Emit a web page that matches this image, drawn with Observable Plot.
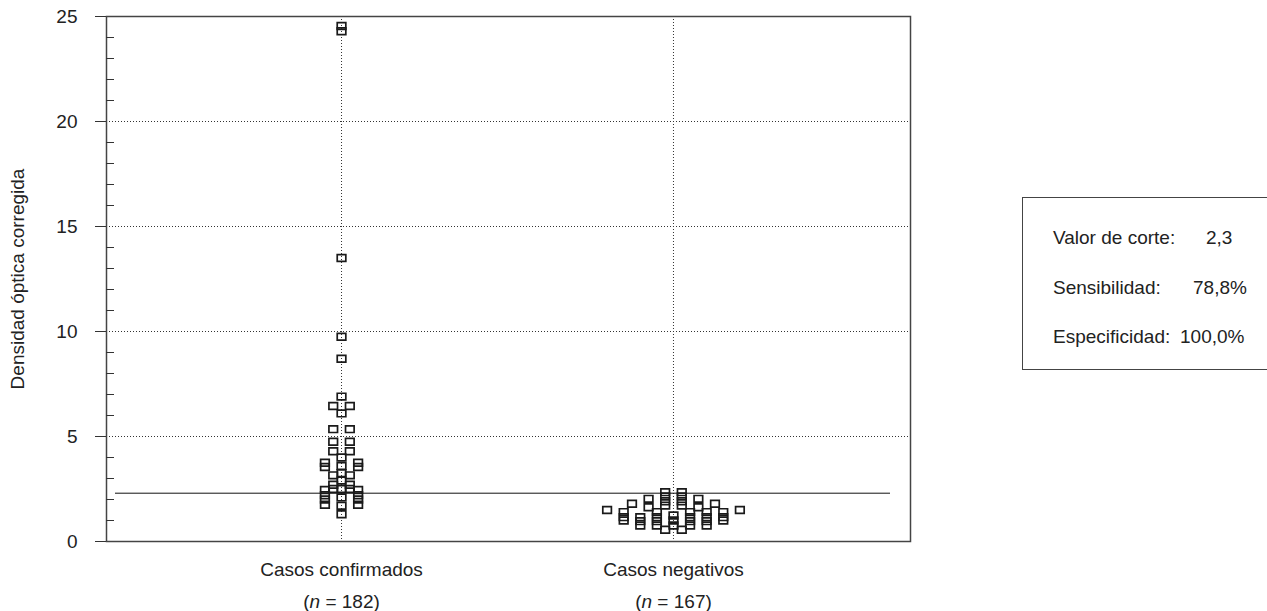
<!DOCTYPE html>
<html>
<head>
<meta charset="utf-8">
<script src="https://cdn.jsdelivr.net/npm/d3@7"></script>
<script src="https://cdn.jsdelivr.net/npm/@observablehq/plot@0.6"></script>
<style>
  html, body { margin: 0; padding: 0; background: #fff; }
  #wrap { position: relative; width: 1267px; height: 611px; overflow: hidden; font-family: "Liberation Sans", Arial, Helvetica, sans-serif; color: #222; }
  #legend { position: absolute; left: 1022px; top: 197px; width: 280px; height: 173px; border: 1px solid #444; box-sizing: border-box; }
  #legend div { position: absolute; font-size: 19px; white-space: pre; line-height: 1; }
</style>
</head>
<body>
<div id="wrap"></div>
<script>
// ---- data ----
const categories = ["Casos confirmados", "Casos negativos"];
const sampleSizes = [182, 167];

const confirmedValues  = [24.55, 24.3, 13.5, 9.75, 8.7, 6.9, 6.45, 6.45, 6.1, 5.35, 5.35, 4.75, 4.75, 4.3, 4.3, 4.0,
                          3.75, 3.75, 3.55, 3.55, 3.6, 3.25, 3.15, 3.15, 2.9, 2.7, 2.7, 2.5, 2.5, 2.5,
                          2.45, 2.45, 2.2, 2.2, 2.1, 2.0, 2.0, 1.75, 1.75, 1.7, 1.3];
const confirmedColumns = [0, 0, 0, 0, 0, 0, -1, 1, 0, -1, 1, -1, 1, -1, 1, 0,
                          -2, 2, -2, 2, 0, 0, -1, 1, 0, -1, 1, -1, 1, 0,
                          -2, 2, -2, 2, 0, -2, 2, -2, 2, 0, 0];

const negativeValues  = [1.5, 1.4, 1.16, 1.0, 1.8, 1.16, 0.97, 0.76, 2.03, 1.63, 1.4, 1.16, 0.97, 0.76,
                         2.35, 2.14, 1.92, 1.71, 0.56, 1.24, 1.0, 0.76, 2.35, 2.14, 1.92, 1.71, 0.56,
                         1.4, 1.16, 0.97, 0.76, 2.03, 1.63, 1.4, 1.16, 0.97, 0.76, 1.8, 1.4, 1.16, 1.0, 1.5];
const negativeColumns = [-8, -6, -6, -6, -5, -4, -4, -4, -3, -3, -2, -2, -2, -2,
                         -1, -1, -1, -1, -1, 0, 0, 0, 1, 1, 1, 1, 1,
                         2, 2, 2, 2, 3, 3, 4, 4, 4, 4, 5, 6, 6, 6, 8];

const cutoffValue = 2.3;
const yMajorTicks = [0, 5, 10, 15, 20, 25];
const yMinorTicks = [1, 2, 3, 4, 6, 7, 8, 9, 11, 12, 13, 14, 16, 17, 18, 19, 21, 22, 23, 24];
const yGridLines = [5, 10, 15, 20];
const yLabel = "Densidad óptica corregida";

const legendLabels = ["Valor de corte:", "Sensibilidad:", "Especificidad:"];
const legendValues = ["2,3", "78,8%", "100,0%"];

// ---- build table ----
const COL_STEP = 0.025; // horizontal spacing of stacked markers (in category units)
const points = [
  ...confirmedValues.map((v, i) => ({group: 0, value: v, column: confirmedColumns[i]})),
  ...negativeValues.map((v, i) => ({group: 1, value: v, column: negativeColumns[i]}))
];
const groupIdx = categories.map((_, i) => i);

// slightly wide rectangular marker
const rectSymbol = {
  draw(ctx, size) {
    const r = Math.sqrt(size / Math.PI);
    const w = r, h = r * 0.78;
    ctx.moveTo(-w, -h); ctx.lineTo(w, -h); ctx.lineTo(w, h); ctx.lineTo(-w, h); ctx.closePath();
  }
};

const dotted = {stroke: "#333", strokeWidth: 1, strokeDasharray: "1,2"};

const chart = Plot.plot({
  width: 1267,
  height: 611,
  marginLeft: 106,
  marginRight: 357,
  marginTop: 16,
  marginBottom: 70,
  style: {fontFamily: "'Liberation Sans', Arial, Helvetica, sans-serif", fontSize: "19px", color: "#222", background: "white"},
  x: {domain: [-0.708, 1.714], axis: null},
  y: {domain: [0, 25], axis: null},
  marks: [
    Plot.ruleY(yGridLines, dotted),
    Plot.ruleX(groupIdx, dotted),
    Plot.ruleY([cutoffValue], {stroke: "#111", strokeWidth: 1, insetLeft: 9, insetRight: 20}),
    Plot.dot(points, {
      x: d => d.group + d.column * COL_STEP,
      y: "value",
      symbol: rectSymbol,
      r: 4.3,
      stroke: "#1a1a1a",
      strokeWidth: 1.7,
      fill: "none"
    }),
    Plot.frame({stroke: "#444", strokeWidth: 1.5}),
    Plot.axisY({
      ticks: yMajorTicks, tickSize: 11, tickPadding: 18, tickFormat: d => String(d),
      label: yLabel, labelAnchor: "center", labelOffset: 96, labelArrow: "none",
      stroke: "#333"
    }),
    Plot.axisY({ticks: yMinorTicks, tickSize: 8, dx: 8, text: null, label: null, stroke: "#333"}),
    Plot.text(groupIdx, {x: d => d, text: d => categories[d], frameAnchor: "bottom", dy: 34, fill: "#222"}),
    Plot.text(groupIdx, {x: d => d, text: d => "(n = " + sampleSizes[d] + ")", frameAnchor: "bottom", dy: 66, fill: "#222"})
  ]
});

// italic "n" in sample size labels
d3.select(chart).selectAll("text").each(function() {
  const t = this.textContent;
  const m = /^\(n = (\d+)\)$/.exec(t);
  if (m) {
    const sel = d3.select(this);
    const tsp = sel.select("tspan").empty() ? sel : sel.select("tspan");
    tsp.text(null);
    tsp.append("tspan").text("(");
    tsp.append("tspan").attr("font-style", "italic").text("n");
    tsp.append("tspan").text(" = " + m[1] + ")");
  }
});

const wrap = document.getElementById("wrap");
wrap.appendChild(chart);

// legend box
const legend = document.createElement("div");
legend.id = "legend";
const rowTops = [30, 80, 129];
const valueLefts = [183, 170, 157];
legendLabels.forEach((lab, i) => {
  const a = document.createElement("div");
  a.textContent = lab;
  a.style.left = "30px";
  a.style.top = rowTops[i] + "px";
  legend.appendChild(a);
  const b = document.createElement("div");
  b.textContent = legendValues[i];
  b.style.left = valueLefts[i] + "px";
  b.style.top = rowTops[i] + "px";
  legend.appendChild(b);
});
wrap.appendChild(legend);
</script>
</body>
</html>
